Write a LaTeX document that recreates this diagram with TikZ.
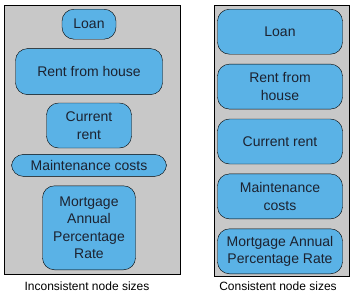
\documentclass[tikz,border=0pt]{standalone}
\usepackage{fontspec}
\setmainfont{Liberation Sans}
\usetikzlibrary{positioning}
\definecolor{nodeblue}{RGB}{90,178,230}
\definecolor{panelgray}{RGB}{200,200,200}
\definecolor{inktext}{RGB}{28,34,48}
\begin{document}
\begin{tikzpicture}[
        x=1pt, y=-1pt,
        blob/.style={draw, rounded corners=12pt, fill=nodeblue, align=center, text=inktext,
            font=\fontsize{14}{17.5}\selectfont, inner sep=0pt},
        samesize/.style={blob, minimum width=125pt, minimum height=45pt},
        caption/.style={font=\fontsize{12}{14}\selectfont, text=black}
    ]
    \useasboundingbox (0,0) rectangle (354,295);
    % panels
    \draw[fill=panelgray] (4,5) rectangle (180,274);
    \draw[fill=panelgray] (214,5) rectangle (349,276);
    % left: inconsistent
    \node[blob, minimum width=54pt, minimum height=30pt, anchor=north] (loanL) at (89,9) {Loan};
    \node[blob, minimum width=147pt, minimum height=46pt, below=9pt of loanL] (rentL) {Rent from house};
    \node[blob, minimum width=85pt, minimum height=45pt, below=8pt of rentL] (curL) {Current\\rent};
    \node[blob, minimum width=155pt, minimum height=22pt, below=6pt of curL] (mainL) {Maintenance costs};
    \node[blob, minimum width=93pt, minimum height=84pt, below=9pt of mainL] (aprL) {Mortgage\\Annual\\Percentage\\Rate};
    % right: consistent
    \node[samesize, anchor=north] (loanR) at (280,9) {Loan};
    \node[samesize, below=9.5pt of loanR] (rentR) {Rent from\\house};
    \node[samesize, below=9.5pt of rentR] (curR) {Current rent};
    \node[samesize, below=9.5pt of curR] (mainR) {Maintenance\\costs};
    \node[samesize, below=9.5pt of mainR] (aprR) {Mortgage Annual\\Percentage Rate};
    % captions
    \node[caption] (capL) at (87,286) {Inconsistent node sizes};
    \node[caption] (capR) at (278,286) {Consistent node sizes};
\end{tikzpicture}
\end{document}
